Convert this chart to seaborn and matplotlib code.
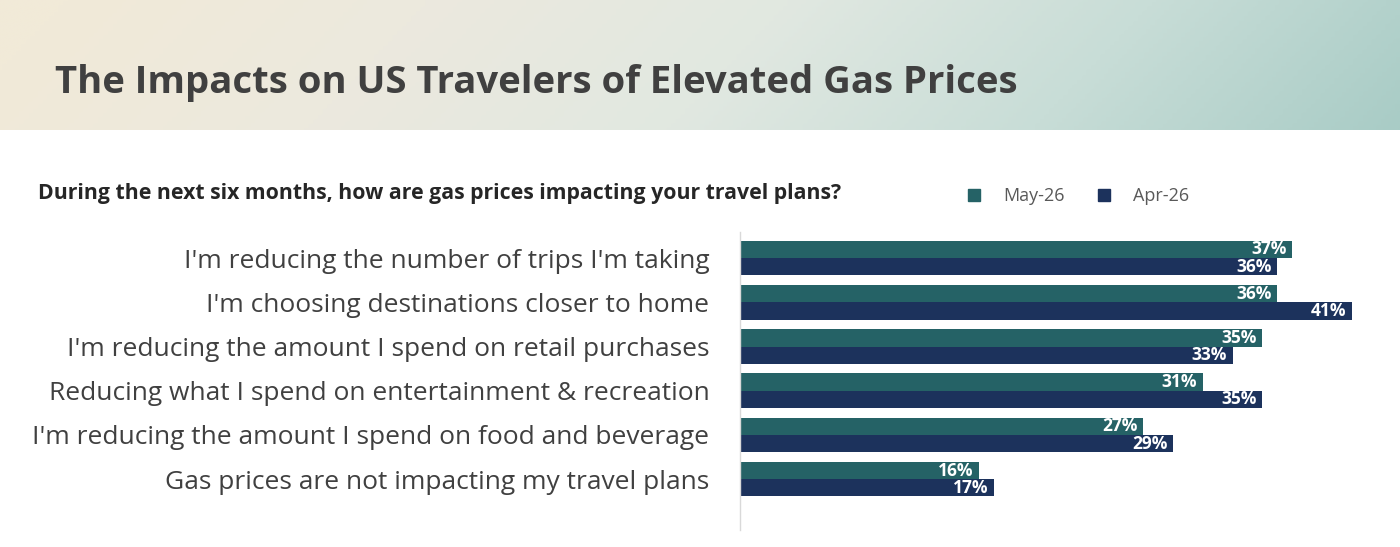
import numpy as np
import pandas as pd
import matplotlib
matplotlib.use("Agg")
import matplotlib.pyplot as plt
import seaborn as sns
from matplotlib.colors import LinearSegmentedColormap
from matplotlib.lines import Line2D

categories = [
    "I'm reducing the number of trips I'm taking",
    "I'm choosing destinations closer to home",
    "I'm reducing the amount I spend on retail purchases",
    "Reducing what I spend on entertainment & recreation",
    "I'm reducing the amount I spend on food and beverage",
    "Gas prices are not impacting my travel plans",
]
may_26 = [37, 36, 35, 31, 27, 16]
apr_26 = [36, 41, 33, 35, 29, 17]
series_names = ["May-26", "Apr-26"]
colors = ["#256266", "#1c325c"]

title = "The Impacts on US Travelers of Elevated Gas Prices"
subtitle = "During the next six months, how are gas prices impacting your travel plans?"

df = pd.DataFrame({
    "category": categories * 2,
    "value": may_26 + apr_26,
    "series": [series_names[0]] * len(categories) + [series_names[1]] * len(categories),
})

sns.set_theme(style="white")
plt.rcParams["font.family"] = ["Open Sans", "DejaVu Sans"]

W, H = 1400, 547
fig = plt.figure(figsize=(W / 100, H / 100), dpi=100)

# header band with soft gradient
bg = fig.add_axes([0, 1 - 130 / H, 1, 130 / H])
cmap = LinearSegmentedColormap.from_list(
    "sky", ["#f1ead8", "#ece9de", "#e1e8e1", "#c8ddd7", "#a9ccc6"])
gx = np.linspace(0, 1, 300)[None, :]
gy = np.linspace(0, 1, 60)[:, None]
grad = np.clip(gx * 0.92 + (gy - 0.5) * 0.08, 0, 1)
bg.imshow(grad, aspect="auto", cmap=cmap, extent=[0, 1, 0, 1])
bg.set_axis_off()
fig.text(55 / W, 1 - 83 / H, title, fontsize=27.5, fontweight="bold",
         color="#404040", va="center", ha="left")

fig.text(38 / W, 1 - 194 / H, subtitle, fontsize=15.3, fontweight="bold",
         color="#262626", va="center", ha="left")

# main axes
ax_left, ax_right = 740, 1390
ax_top, ax_bot = 232, 530
ax = fig.add_axes([ax_left / W, 1 - ax_bot / H, (ax_right - ax_left) / W,
                   (ax_bot - ax_top) / H])
sns.barplot(data=df, y="category", x="value", hue="series", orient="h",
            palette=colors, width=0.78, ax=ax, legend=False,
            edgecolor="none", saturation=1)

px_per_pct = (1352 - 740) / 41
ax.set_xlim(0, (ax_right - ax_left) / px_per_pct)
ax.set_ylim(6.15, -0.59)

for cont in ax.containers:
    labs = ax.bar_label(cont, labels=[f"{int(v)}%" for v in cont.datavalues],
                        padding=-4, color="white", fontsize=12.5,
                        fontweight="bold")
    for t in labs:
        t.set_ha("right")

ax.set_xlabel("")
ax.set_ylabel("")
ax.set_xticks([])
ax.tick_params(axis="y", length=0, pad=22, labelsize=19, labelcolor="#404040")
for s in ["top", "right", "bottom"]:
    ax.spines[s].set_visible(False)
ax.spines["left"].set_color("#d9d9d9")
ax.spines["left"].set_linewidth(1)

# legend
handles = [Line2D([0], [0], marker="s", linestyle="none", markersize=8,
                  markerfacecolor=c, markeredgecolor=c) for c in colors]
fig.legend(handles, series_names, loc="center left",
           bbox_to_anchor=(940 / W, 1 - 196 / H), ncol=2, frameon=False,
           fontsize=13, labelcolor="#595959", handletextpad=0.6,
           columnspacing=1.2)

fig.savefig("out.png", dpi=100)
